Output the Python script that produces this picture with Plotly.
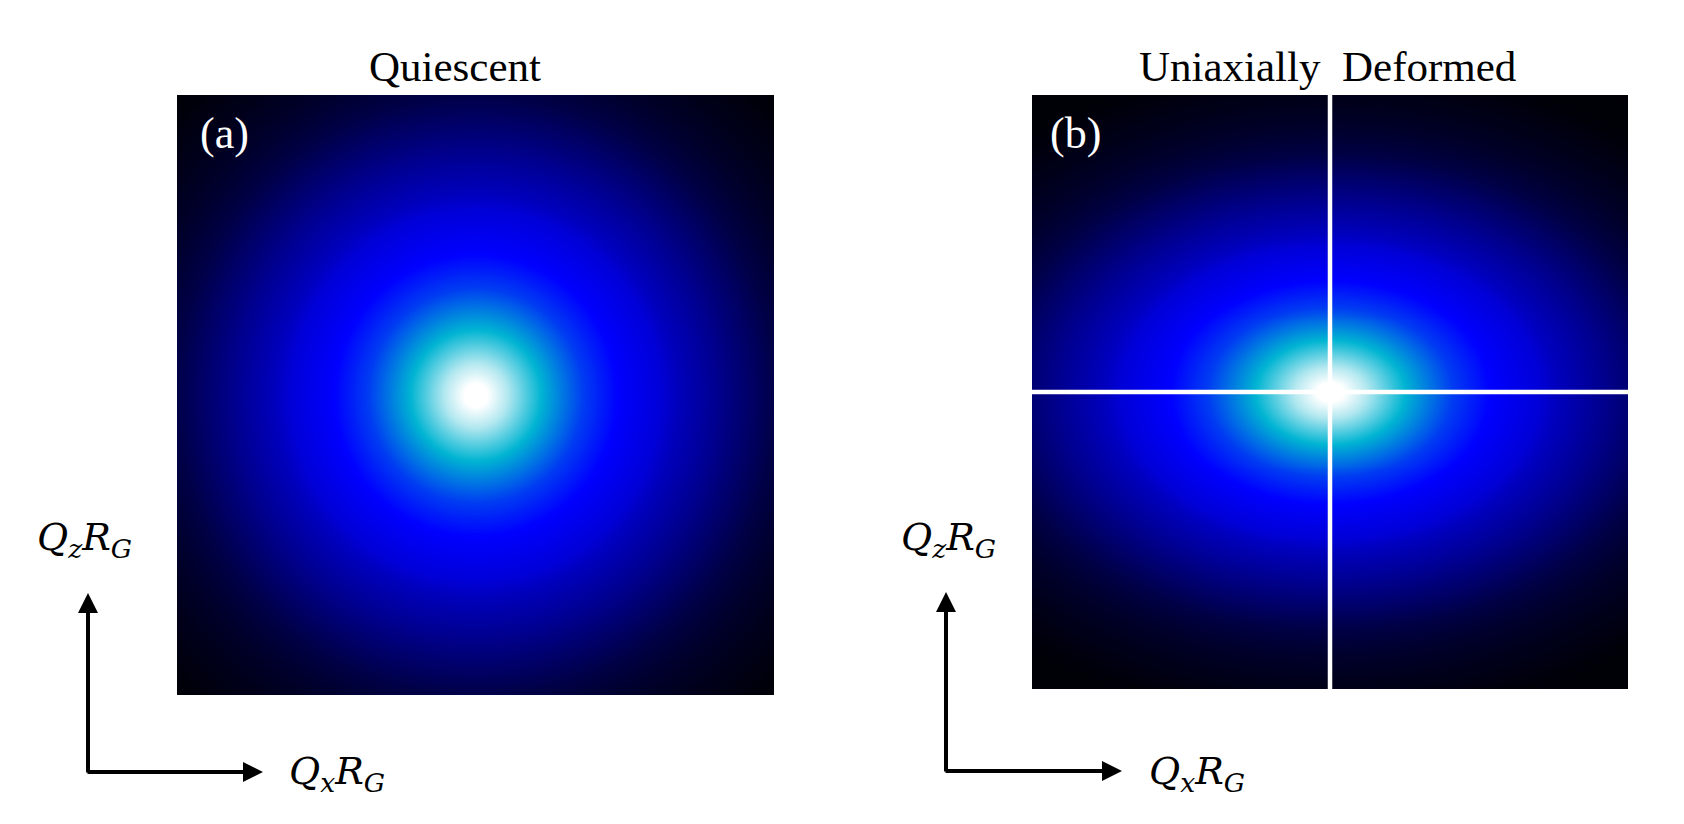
import numpy as np
import plotly.graph_objects as go

# page is rendered with an 8 px body margin; figure sized to fit the 1684x824 window
OFF = 8
W, H = 1684 - OFF, 824 - 2 * OFF

# ---- data ----
# radial intensity profile (radius in px of a ~298 px half-width panel -> colour level 0..1)
profile_radius = [0, 12, 32, 66, 108, 142, 200, 260, 300, 340, 377, 422, 700]
profile_level = [1.0, 0.97, 0.88, 0.72, 0.60, 0.50, 0.367, 0.275, 0.215, 0.175, 0.145, 0.09, 0.0]

# colour levels of the scattering map
cs_levels = [0.0, 0.10, 0.15, 0.19, 0.22, 0.30, 0.40, 0.50, 0.60, 0.72, 0.88, 0.97, 1.0]
cs_colors = ["rgb(0,0,0)", "rgb(0,0,8)", "rgb(0,0,25)", "rgb(0,0,50)", "rgb(0,0,75)",
             "rgb(0,0,140)", "rgb(0,0,215)", "rgb(0,0,255)", "rgb(0,60,242)",
             "rgb(0,180,210)", "rgb(180,232,240)", "rgb(255,255,255)", "rgb(255,255,255)"]

# anisotropy of the deformed pattern (horizontal stretch, vertical compression)
stretch_x = [1.0, 1.13]
stretch_z = [1.0, 0.79]

panel_titles = ["Quiescent", "Uniaxially\u00a0 Deformed"]
panel_tags = ["(a)", "(b)"]

# ---- build grids ----
half_w = [298.5, 298.0]
half_h = [300.0, 297.0]
N = 300
colorscale = [[l, c] for l, c in zip(cs_levels, cs_colors)]

fig = go.Figure()
for i in range(2):
    xs = np.linspace(-half_w[i], half_w[i], N)
    ys = np.linspace(-half_h[i], half_h[i], N)
    X, Y = np.meshgrid(xs, ys)
    R = np.sqrt((X / stretch_x[i]) ** 2 + (Y / stretch_z[i]) ** 2)
    Z = np.interp(R, profile_radius, profile_level)
    fig.add_trace(go.Heatmap(
        x=xs, y=ys, z=Z, colorscale=colorscale, zmin=0, zmax=1,
        showscale=False, zsmooth="best", hoverinfo="skip",
        xaxis="x" if i == 0 else "x2", yaxis="y" if i == 0 else "y2"))

def px(x):
    return (x - OFF) / W

def py(y):
    return 1 - (y - OFF) / H

ax_common = dict(visible=False, showgrid=False, zeroline=False, fixedrange=True)
fig.update_layout(
    width=W, height=H, margin=dict(l=0, r=0, t=0, b=0),
    paper_bgcolor="white", plot_bgcolor="white", showlegend=False,
    xaxis=dict(domain=[px(177), px(774)], range=[-half_w[0], half_w[0]], anchor="y", **ax_common),
    yaxis=dict(domain=[py(695), py(95)], range=[-half_h[0], half_h[0]], anchor="x", **ax_common),
    xaxis2=dict(domain=[px(1032), px(1628)], range=[-half_w[1], half_w[1]], anchor="y2", **ax_common),
    yaxis2=dict(domain=[py(689), py(95)], range=[-half_h[1], half_h[1]], anchor="x2", **ax_common),
)

# white cross in panel (b)
fig.add_shape(type="line", xref="x2", yref="y2", x0=0, x1=0, y0=-half_h[1], y1=half_h[1],
              line=dict(color="white", width=4.5))
fig.add_shape(type="line", xref="x2", yref="y2", x0=-half_w[1], x1=half_w[1], y0=0, y1=0,
              line=dict(color="white", width=4.5))

serif = "Liberation Serif, Times New Roman, serif"
ann = []
# titles
ann.append(dict(text=panel_titles[0], x=px(455), y=py(67), xref="paper", yref="paper",
                xanchor="center", yanchor="middle", showarrow=False,
                font=dict(family=serif, size=43, color="black")))
ann.append(dict(text=panel_titles[1], x=px(1327), y=py(67), xref="paper", yref="paper",
                xanchor="center", yanchor="middle", showarrow=False,
                font=dict(family=serif, size=43, color="black")))
# panel tags
for tag, cx in zip(panel_tags, [224, 1075]):
    ann.append(dict(text=tag, x=px(cx), y=py(133), xref="paper", yref="paper",
                    xanchor="center", yanchor="middle", showarrow=False,
                    font=dict(family=serif, size=44, color="white")))

# axis labels
mfont = dict(family="DejaVu Serif, serif", size=38, color="black")
lab_z = "<i>Q</i><sub><i>z</i></sub><i>R</i><sub><i>G</i></sub>"
lab_x = "<i>Q</i><sub><i>x</i></sub><i>R</i><sub><i>G</i></sub>"
for zx, xx in [(84, 337), (948, 1197)]:
    ann.append(dict(text=lab_z, x=px(zx), y=py(539), xref="paper", yref="paper",
                    xanchor="center", yanchor="middle", showarrow=False, font=mfont))
    ann.append(dict(text=lab_x, x=px(xx), y=py(773), xref="paper", yref="paper",
                    xanchor="center", yanchor="middle", showarrow=False, font=mfont))

# coordinate arrows
for ox, oy, tipy, tipx in [(88, 772, 593, 263), (946, 771, 592, 1122)]:
    ann.append(dict(text="", x=px(ox), y=py(tipy), xref="paper", yref="paper",
                    ax=0, ay=(oy + 2) - tipy, axref="pixel", ayref="pixel",
                    showarrow=True, arrowhead=2, arrowsize=1, arrowwidth=4,
                    arrowcolor="black", standoff=0))
    ann.append(dict(text="", x=px(tipx), y=py(oy), xref="paper", yref="paper",
                    ax=(ox - 2) - tipx, ay=0, axref="pixel", ayref="pixel",
                    showarrow=True, arrowhead=2, arrowsize=1, arrowwidth=4,
                    arrowcolor="black", standoff=0))

fig.update_layout(annotations=ann)
fig.write_html("out.html")
